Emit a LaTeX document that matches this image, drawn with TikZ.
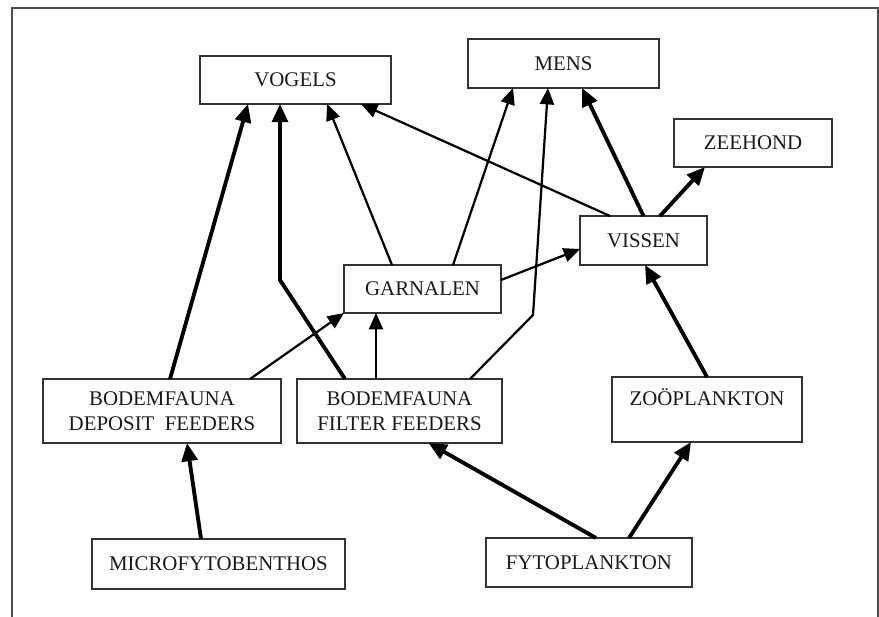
\documentclass[tikz,border=0pt]{standalone}
\usepackage{fontspec}
\setmainfont{Liberation Serif}
\usetikzlibrary{arrows.meta,calc}

\begin{document}
\begin{tikzpicture}[x=0.03cm, y=-0.03cm,
  box/.style={draw=black!80, line width=1.2pt, inner sep=0pt, outer sep=0pt,
              align=center, text=black!90,
              font=\fontsize{17.8}{21.5}\selectfont},
  heavy/.style={-{Triangle[length=15.5pt,width=13.5pt]}, line width=3.3pt,
                line join=round},
  light/.style={-{Triangle[length=14pt,width=12pt]}, line width=1.9pt,
                line join=round},
]
  \useasboundingbox (0,0) rectangle (879,616);

  % Frame (open at the bottom)
  \draw[black!70, line width=1.2pt] (12,620) |- (878,8) -- (878,620);

  % Top row
  \node[box, minimum width=5.73cm, minimum height=1.44cm] (vogels) at (295.5,80) {VOGELS};
  \node[box, minimum width=5.73cm, minimum height=1.47cm] (mens) at (563.5,63.5) {MENS};
  \node[box, minimum width=4.74cm, minimum height=1.44cm] (zeehond) at (753,143) {ZEEHOND};

  % Middle row
  \node[box, minimum width=3.81cm, minimum height=1.47cm] (vissen) at (643.5,240.5) {VISSEN};
  \node[box, minimum width=4.71cm, minimum height=1.44cm] (garnalen) at (422.5,289) {GARNALEN};

  % Consumers
  \node[box, minimum width=7.14cm, minimum height=1.92cm] (deposit) at (162,411)
    {BODEMFAUNA\\DEPOSIT\ \ FEEDERS};
  \node[box, minimum width=6.15cm, minimum height=1.92cm] (filter) at (399.5,411)
    {BODEMFAUNA\\FILTER FEEDERS};
  \node[box, minimum width=5.70cm, minimum height=1.95cm] (zoo) at (707,409.5)
    {ZOÖPLANKTON\\\mbox{}};

  % Producers
  \node[box, minimum width=7.59cm, minimum height=1.50cm] (micro) at (218.5,564) {MICROFYTOBENTHOS};
  \node[box, minimum width=6.18cm, minimum height=1.47cm] (fyto) at (589,562.5) {FYTOPLANKTON};

  % Bend points
  \coordinate (bendV) at (280,280);
  \coordinate (bendM) at (533,315);

  % Heavy arrows
  \draw[heavy] ($(micro.north)+(-17.5,0)$) -- ($(deposit.south)+(25,0)$);
  \draw[heavy] ($(fyto.north)+(7,0)$) -- ($(filter.south)+(29,0)$);
  \draw[heavy] ($(fyto.north)+(40,0)$) -- ($(zoo.south)+(-16,0)$);
  \draw[heavy] (zoo.north) -- ($(vissen.south)+(1.5,0)$);
  \draw[heavy] ($(vissen.north)+(16.5,0)$) -- ($(zeehond.south)+(-48,0)$);
  \draw[heavy] (vissen.north) -- ($(mens.south)+(18.5,0)$);
  \draw[heavy] ($(deposit.north)+(8,0)$) -- ($(vogels.south)+(-47.5,0)$);
  \draw[heavy] ($(filter.north)+(-54.5,0)$) -- (bendV) -- ($(vogels.south)+(-15.5,0)$);

  % Light arrows
  \draw[light] ($(vissen.north)+(-33.5,0)$) -- ($(vogels.south)+(65.5,0)$);
  \draw[light] ($(garnalen.east)+(0,-9)$) -- ($(vissen.west)+(0,8.5)$);
  \draw[light] ($(garnalen.north)+(-30.5,0)$) -- ($(vogels.south)+(31.5,0)$);
  \draw[light] ($(garnalen.north)+(30.5,0)$) -- ($(mens.south)+(-50.5,0)$);
  \draw[light] ($(filter.north)+(-23.5,0)$) -- ($(garnalen.south)+(-46.5,0)$);
  \draw[light] ($(deposit.north)+(88,0)$) -- (garnalen.south west);
  \draw[light] ($(filter.north)+(70.5,0)$) -- (bendM) -- ($(mens.south)+(-15.5,0)$);
\end{tikzpicture}
\end{document}
